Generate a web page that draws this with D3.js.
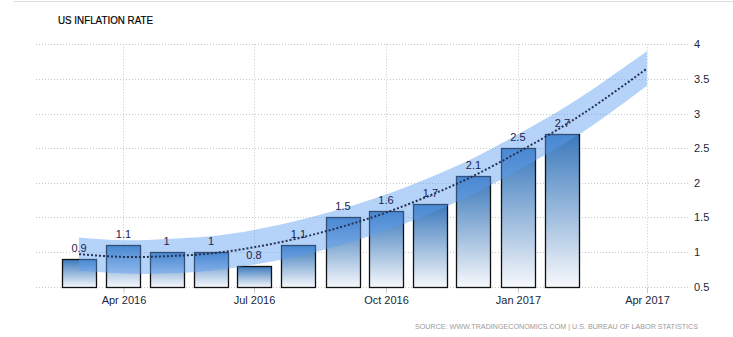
<!DOCTYPE html>
<html>
<head>
<meta charset="utf-8">
<script src="https://cdn.jsdelivr.net/npm/d3@7"></script>
<style>
  body { margin: 0; background: #fff; }
  text { font-family: "Liberation Sans", Arial, sans-serif; }
</style>
</head>
<body>
<div id="container"></div>
<script>
let w = 733;
let h = 337;

// data
let months = ["2016-03", "2016-04", "2016-05", "2016-06", "2016-07", "2016-08",
  "2016-09", "2016-10", "2016-11", "2016-12", "2017-01", "2017-02"];
let inflation = [0.9, 1.1, 1, 1, 0.8, 1.1, 1.5, 1.6, 1.7, 2.1, 2.5, 2.7];

// dotted trend line + shaded band
let trendMonths = ["2016-03", "2016-04", "2016-05", "2016-06", "2016-07", "2016-08",
  "2016-09", "2016-10", "2016-11", "2016-12", "2017-01", "2017-02", "2017-03", "2017-04"];
let trendValues = [0.97, 0.93, 0.94, 0.98, 1.07, 1.2, 1.37, 1.57, 1.82, 2.1, 2.44, 2.81, 3.19, 3.65];
let bandHalf = [0.24, 0.24, 0.25, 0.25, 0.25, 0.26, 0.26, 0.26, 0.26, 0.26, 0.26, 0.26, 0.26, 0.25];

let xTicks = ["2016-04", "2016-07", "2016-10", "2017-01", "2017-04"];
let yTicks = [0.5, 1, 1.5, 2, 2.5, 3, 3.5, 4];

let parseMonth = d3.timeParse("%Y-%m");

let viz = d3.select("#container")
  .append("svg")
  .attr("width", w)
  .attr("height", h);

// top border
viz.append("line")
  .attr("x1", 14).attr("x2", w)
  .attr("y1", 1.5).attr("y2", 1.5)
  .attr("stroke", "#dcdcdc");

viz.append("text")
  .attr("x", 58)
  .attr("y", 24)
  .attr("font-size", 11)
  .attr("fill", "#000")
  .attr("stroke", "#000")
  .attr("stroke-width", 0.2)
  .attr("textLength", 95)
  .attr("lengthAdjust", "spacingAndGlyphs")
  .text("US INFLATION RATE");

let xScale = d3.scaleTime()
  .domain([new Date(2016, 0, 31), new Date(2017, 4, 1)])
  .range([36, 690]);

let yScale = d3.scaleLinear().domain([0.5, 4]).range([286.7, 44.3]);

// grid
let grid = viz.append("g").attr("class", "grid");
grid.selectAll(".hgrid").data(yTicks).enter()
  .append("line")
  .attr("class", "hgrid")
  .attr("x1", 36).attr("x2", 690)
  .attr("y1", d => Math.round(yScale(d)) + 0.5)
  .attr("y2", d => Math.round(yScale(d)) + 0.5)
  .attr("stroke", "#c8c8c8")
  .attr("stroke-dasharray", "1,2");

grid.selectAll(".vgrid").data(xTicks).enter()
  .append("line")
  .attr("class", "vgrid")
  .attr("x1", d => Math.round(xScale(parseMonth(d))) + 0.5)
  .attr("x2", d => Math.round(xScale(parseMonth(d))) + 0.5)
  .attr("y1", yScale(4))
  .attr("y2", yScale(0.5))
  .attr("stroke", "#c8c8c8")
  .attr("stroke-dasharray", "1,2");

// x axis
let xAxis = d3.axisBottom(xScale)
  .tickValues(xTicks.map(parseMonth))
  .tickFormat(d3.timeFormat("%b %Y"))
  .tickSize(6)
  .tickPadding(3);
let xAxisGroup = viz.append("g").attr("class", "xaxis")
  .attr("transform", "translate(0," + (yScale(0.5) + 0.5) + ")")
  .call(xAxis);
xAxisGroup.select(".domain").remove();
xAxisGroup.selectAll("line").attr("stroke", "#c8c8c8");
xAxisGroup.selectAll("text")
  .attr("font-size", 11)
  .attr("font-family", "Liberation Sans, Arial, sans-serif")
  .attr("fill", "#1a1f3a");

// y axis
let yAxis = d3.axisRight(yScale)
  .tickValues(yTicks)
  .tickFormat(d => String(d))
  .tickSize(0)
  .tickPadding(4);
let yAxisGroup = viz.append("g").attr("class", "yaxis")
  .attr("transform", "translate(690,0)")
  .call(yAxis);
yAxisGroup.select(".domain").remove();
yAxisGroup.selectAll("text")
  .attr("font-size", 11)
  .attr("font-family", "Liberation Sans, Arial, sans-serif")
  .attr("fill", "#1a1f3a");

// bar gradient
let defs = viz.append("defs");
let grad = defs.append("linearGradient")
  .attr("id", "barGrad")
  .attr("x1", 0).attr("y1", 0).attr("x2", 0).attr("y2", 1);
grad.append("stop").attr("offset", "0%").attr("stop-color", "#3b79bc");
grad.append("stop").attr("offset", "100%").attr("stop-color", "#f7f9fc");

let barData = months.map((m, i) => ({ date: parseMonth(m), value: inflation[i] }));
let barWidth = 34;

viz.append("g").attr("class", "bars")
  .selectAll("rect").data(barData).enter()
  .append("rect")
  .attr("x", d => Math.round(xScale(d.date) - barWidth / 2) + 0.5)
  .attr("y", d => Math.round(yScale(d.value)) + 0.5)
  .attr("width", barWidth)
  .attr("height", d => Math.round(yScale(0.5)) - Math.round(yScale(d.value)))
  .attr("fill", "url(#barGrad)")
  .attr("stroke", "#111")
  .attr("stroke-width", 1.3);

// band
let trendData = trendMonths.map((m, i) => ({
  date: parseMonth(m), value: trendValues[i], half: bandHalf[i]
}));

let band = d3.area()
  .x(d => xScale(d.date))
  .y0(d => yScale(d.value - d.half))
  .y1(d => yScale(d.value + d.half))
  .curve(d3.curveNatural);

viz.append("path")
  .datum(trendData)
  .attr("d", band)
  .attr("fill", "#5b9bf0")
  .attr("fill-opacity", 0.45);

// value labels
viz.append("g").attr("class", "labels")
  .selectAll("text").data(barData).enter()
  .append("text")
  .attr("x", d => xScale(d.date))
  .attr("y", d => yScale(d.value) - 7)
  .attr("text-anchor", "middle")
  .attr("font-size", 11)
  .attr("fill", "#1c2350")
  .text(d => String(d.value));

// dotted trend line
let trendLine = d3.line()
  .x(d => xScale(d.date))
  .y(d => yScale(d.value))
  .curve(d3.curveNatural);

viz.append("path")
  .datum(trendData)
  .attr("d", trendLine)
  .attr("fill", "none")
  .attr("stroke", "#26324f")
  .attr("stroke-width", 2)
  .attr("stroke-dasharray", "2,2");

// source
viz.append("text")
  .attr("x", 698)
  .attr("y", 329)
  .attr("text-anchor", "end")
  .attr("font-size", 8)
  .attr("fill", "#9a9a9a")
  .attr("textLength", 283)
  .attr("lengthAdjust", "spacingAndGlyphs")
  .text("SOURCE: WWW.TRADINGECONOMICS.COM | U.S.  BUREAU OF LABOR STATISTICS");
</script>
</body>
</html>
